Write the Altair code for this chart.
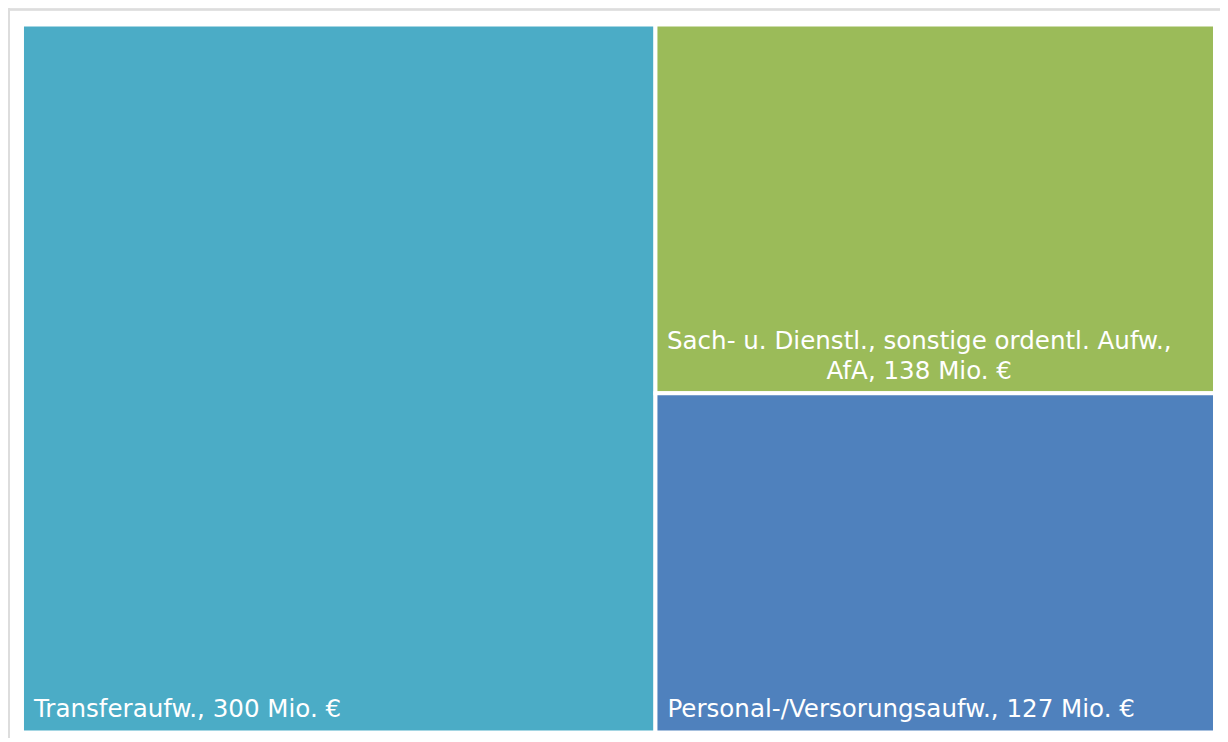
import altair as alt
import pandas as pd

# --- data ---
categories = [
    "Transferaufw., 300 Mio. €",
    "Sach- u. Dienstl., sonstige ordentl. Aufw.,\nAfA, 138 Mio. €",
    "Personal-/Versorungsaufw., 127 Mio. €",
]
values = [300, 138, 127]
colors = ["#4BACC6", "#9BBB59", "#4F81BD"]

W, H = 1195, 709


def worst(row, side):
    s = sum(row)
    return max(max(side * side * r / (s * s), s * s / (side * side * r)) for r in row)


def squarify(vals, x, y, w, h):
    """Squarified treemap; vals already scaled to area w*h."""
    out = []
    vals = list(vals)
    while vals:
        side = min(w, h)
        row = [vals.pop(0)]
        while vals and worst(row + [vals[0]], side) <= worst(row, side):
            row.append(vals.pop(0))
        s = sum(row)
        if w >= h:  # column on the left
            cw = s / h
            cy = y
            for r in row:
                rh = r / cw
                out.append((x, x + cw, cy, cy + rh))
                cy += rh
            x += cw
            w -= cw
        else:  # row on top
            rh = s / w
            cx = x
            for r in row:
                rw = r / rh
                out.append((cx, cx + rw, y, y + rh))
                cx += rw
            y += rh
            h -= rh
    return out


total = sum(values)
scaled = [v * W * H / total for v in values]
rects = squarify(scaled, 0, 0, W, H)

df = pd.DataFrame({
    "cat": categories,
    "value": values,
    "color": colors,
    "x0": [r[0] for r in rects],
    "x1": [r[1] for r in rects],
    "y0": [r[2] for r in rects],
    "y1": [r[3] for r in rects],
    "multi": ["\n" in c for c in categories],
})
df["xm"] = (df["x0"] + df["x1"]) / 2

xs = alt.Scale(domain=[0, W])
ys = alt.Scale(domain=[0, H], reverse=True)

base = alt.Chart(df)

rect = base.mark_rect(stroke="white", strokeWidth=4).encode(
    x=alt.X("x0:Q", scale=xs, axis=None),
    x2="x1:Q",
    y=alt.Y("y0:Q", scale=ys, axis=None),
    y2="y1:Q",
    color=alt.Color("color:N", scale=None),
    tooltip=["cat:N", "value:Q"],
)

font = "DejaVu Sans"
fs = 24.6

single = base.transform_filter("!datum.multi").mark_text(
    align="left", baseline="alphabetic", dx=12, dy=-15,
    font=font, fontSize=fs, color="white",
).encode(
    x=alt.X("x0:Q", scale=xs, axis=None),
    y=alt.Y("y1:Q", scale=ys, axis=None),
    text="cat:N",
)

multi = base.transform_filter("datum.multi").mark_text(
    align="center", baseline="alphabetic", dx=-16, dy=-44, lineBreak="\n", lineHeight=29.5,
    font=font, fontSize=fs, color="white",
).encode(
    x=alt.X("xm:Q", scale=xs, axis=None),
    y=alt.Y("y1:Q", scale=ys, axis=None),
    text="cat:N",
)

border_top = alt.Chart(df).mark_rule(color="#dddddd", strokeWidth=2).encode(
    x=alt.value(-14), x2=alt.value(W + 10), y=alt.value(-15)
)
border_left = alt.Chart(df).mark_rule(color="#dddddd", strokeWidth=2).encode(
    x=alt.value(-13), y=alt.value(-16), y2=alt.value(H + 10)
)

chart = alt.layer(border_top, border_left, rect, single, multi).properties(
    width=W, height=H,
    padding={"left": 14, "top": 16, "right": 5, "bottom": 5},
    autosize="none",
).configure_view(stroke=None)

chart.save("out.html", embed_options={"renderer": "svg", "actions": False})
